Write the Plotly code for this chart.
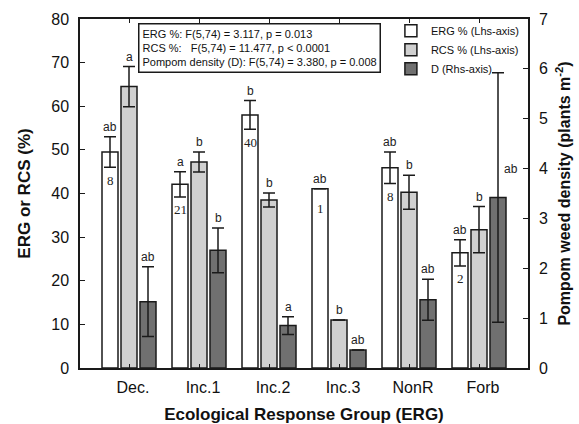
import plotly.graph_objects as go

# Ecological response groups and their summary statistics (mean ± SE)
groups = ["Dec.", "Inc.1", "Inc.2", "Inc.3", "NonR", "Forb"]
erg_pct = [49.5, 42.1, 58.0, 41.1, 45.9, 26.4]
erg_se = [3.5, 2.9, 3.3, 0.0, 3.6, 3.0]
rcs_pct = [64.5, 47.2, 38.5, 11.0, 40.3, 31.7]
rcs_se = [4.6, 2.3, 1.6, 0.0, 3.9, 5.3]
density = [1.33, 2.36, 0.85, 0.36, 1.37, 3.42]
density_se = [0.70, 0.45, 0.18, 0.0, 0.41, 2.50]

# Post-hoc letters and sample sizes
erg_letters = ["ab", "a", "b", "ab", "ab", "ab"]
rcs_letters = ["a", "b", "b", "b", "b", "b"]
d_letters = ["ab", "b", "a", "ab", "ab", "ab"]
n_labels = ["8", "21", "40", "1", "8", "2"]

stats_lines = [
    "ERG %: F(5,74) = 3.117, p = 0.013",
    "RCS %:\u00a0\u00a0 F(5,74) = 11.477, p < 0.0001",
    "Pompom density (D): F(5,74) = 3.380, p = 0.008",
]

xpos = list(range(len(groups)))
slot = 19 / 70
bw = 16 / 70
SANS = "Liberation Sans, Arial, Helvetica, sans-serif"
SERIF = "Liberation Serif, Times New Roman, serif"

fig = go.Figure()


def add_bars(name, vals, errs, color, offset, yaxis):
    fig.add_trace(go.Bar(
        x=xpos, y=vals, name=name, width=bw, offset=offset,
        marker=dict(color=color, line=dict(color="#1a1a1a", width=1.5)),
        error_y=dict(type="data", array=errs, visible=True, color="#1a1a1a",
                     thickness=1.5, width=6),
        yaxis=yaxis,
    ))


add_bars("ERG % (Lhs-axis)", erg_pct, erg_se, "#ffffff", -slot - bw / 2, "y")
add_bars("RCS % (Lhs-axis)", rcs_pct, rcs_se, "#d0d0d0", -bw / 2, "y")
add_bars("D (Rhs-axis)", density, density_se, "#707070", slot - bw / 2, "y2")

annotations = []
letter_font = dict(family=SANS, size=12, color="#222")
for i in xpos:
    annotations.append(dict(x=i - slot, y=erg_pct[i] + erg_se[i], xref="x", yref="y",
                            text=erg_letters[i], showarrow=False, yshift=10,
                            font=letter_font))
    annotations.append(dict(x=i, y=rcs_pct[i] + rcs_se[i], xref="x", yref="y",
                            text=rcs_letters[i], showarrow=False, yshift=10,
                            font=letter_font))
    if i == len(groups) - 1:
        # long error bar: letter sits beside it
        annotations.append(dict(x=i + slot, y=4.0, xref="x", yref="y2",
                                text=d_letters[i], showarrow=False, xshift=13,
                                font=letter_font))
    else:
        annotations.append(dict(x=i + slot, y=density[i] + density_se[i], xref="x",
                                yref="y2", text=d_letters[i], showarrow=False,
                                yshift=10, font=letter_font))
    annotations.append(dict(x=i - slot, y=erg_pct[i] - erg_se[i], xref="x", yref="y",
                            text=n_labels[i], showarrow=False,
                            yshift=-13 if erg_se[i] > 0 else -20,
                            font=dict(family=SERIF, size=13, color="#222")))

annotations.append(dict(
    x=0.129, y=0.988, xref="paper", yref="paper", xanchor="left", yanchor="top",
    text="<br>".join(stats_lines), align="left", showarrow=False,
    bordercolor="#1a1a1a", borderwidth=1.5, borderpad=3, bgcolor="white",
    font=dict(family=SANS, size=11, color="#111"),
))

fig.update_layout(
    width=579, height=424,
    margin=dict(l=80, r=51, t=19, b=56),
    paper_bgcolor="white", plot_bgcolor="white",
    font=dict(family=SANS, color="#111"),
    showlegend=True,
    legend=dict(x=0.694, y=1.008, xanchor="left", yanchor="top",
                bgcolor="rgba(0,0,0,0)", font=dict(family=SANS, size=11),
                tracegroupgap=0, itemwidth=30),
    annotations=annotations,
    xaxis=dict(
        range=[-0.7, 5.7], tickvals=xpos, ticktext=groups, automargin=False,
        showline=True, linecolor="#1a1a1a", linewidth=1.5, mirror="ticks",
        ticks="inside", ticklen=4, tickcolor="#1a1a1a", tickwidth=1,
        tickfont=dict(size=16), ticklabelshift=4, ticklabelstandoff=4,
        showgrid=False, zeroline=False,
        title=dict(text="<b>Ecological Response Group (ERG)</b>",
                   font=dict(size=17), standoff=14),
    ),
    yaxis=dict(
        range=[0, 80], dtick=10, automargin=False,
        showline=True, linecolor="#1a1a1a", linewidth=1.5,
        ticks="inside", ticklen=5, tickcolor="#1a1a1a",
        tickfont=dict(size=16), ticklabelstandoff=6,
        showgrid=False, zeroline=False,
        title=dict(text="<b>ERG or RCS (%)</b>", font=dict(size=17), standoff=16),
    ),
    yaxis2=dict(
        range=[0, 7], dtick=1, overlaying="y", side="right", automargin=False,
        showline=True, linecolor="#1a1a1a", linewidth=1.5,
        ticks="inside", ticklen=5, tickcolor="#1a1a1a",
        tickfont=dict(size=16), ticklabelstandoff=6,
        showgrid=False, zeroline=False,
        title=dict(text="<b>Pompom weed density (plants m<sup>-2</sup>)</b>",
                   font=dict(size=16), standoff=12),
    ),
)

fig.write_html("out.html")
